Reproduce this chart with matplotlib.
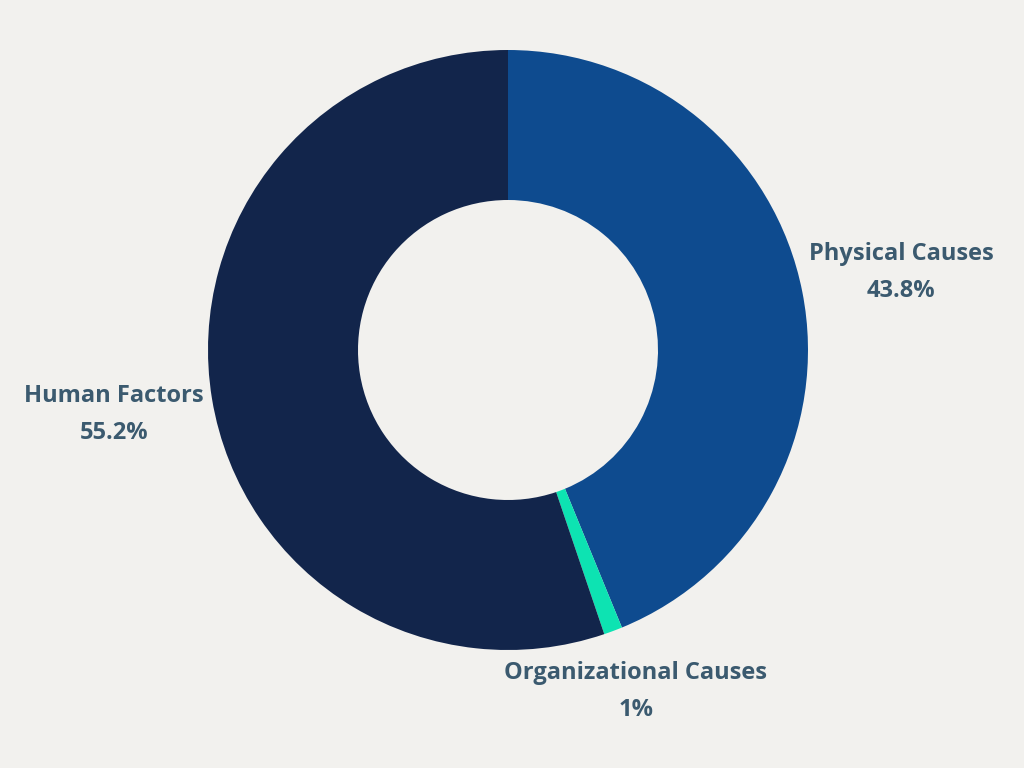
import numpy as np
import matplotlib
matplotlib.use("Agg")
import matplotlib.pyplot as plt

categories = ["Physical Causes", "Organizational Causes", "Human Factors"]
values = [43.8, 1.0, 55.2]
value_labels = ["43.8%", "1%", "55.2%"]
colors = ["#0e4b8f", "#0de3b2", "#12254b"]
label_dist = [1.335, 1.215, 1.33]

bg = "#f2f1ee"
txt = "#3b5a6f"

fig = plt.figure(figsize=(10.24, 7.68), dpi=100, facecolor=bg)
ax = fig.add_axes([0, 0, 1, 1])
ax.set_facecolor(bg)

cx, cy, R = 508, 418, 300
wedges, _ = ax.pie(values, colors=colors, startangle=90, counterclock=False,
                   center=(cx, cy), radius=R, frame=True,
                   wedgeprops=dict(width=R * 0.5, linewidth=0))
ax.set_xlim(0, 1024)
ax.set_ylim(0, 768)
ax.set_aspect("equal")
ax.axis("off")

for w, name, vl, d in zip(wedges, categories, value_labels, label_dist):
    ang = np.deg2rad((w.theta1 + w.theta2) / 2)
    x = cx + R * d * np.cos(ang)
    y = cy + R * d * np.sin(ang)
    ax.text(x, y, name + "\n" + vl, ha="center", va="center", color=txt,
            fontsize=17, fontweight="bold", family=["Open Sans", "DejaVu Sans"],
            linespacing=1.72)

fig.savefig("out.png", dpi=100, facecolor=bg)
